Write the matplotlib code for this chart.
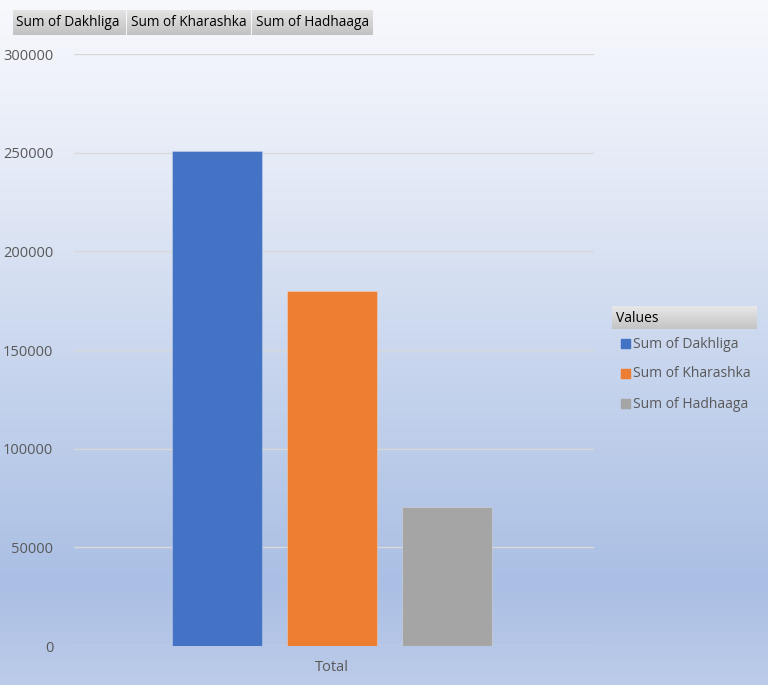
import numpy as np
import matplotlib
matplotlib.use("Agg")
import matplotlib.pyplot as plt

plt.rcParams['font.family'] = ['Open Sans', 'DejaVu Sans']

series = ["Sum of Dakhliga", "Sum of Kharashka", "Sum of Hadhaaga"]
values = [251000, 180000, 70500]
colors = ["#4472c4", "#ed7d31", "#a5a5a5"]
category = "Total"
yticks = [0, 50000, 100000, 150000, 200000, 250000, 300000]

W, H = 768, 685
fig = plt.figure(figsize=(W / 100, H / 100), dpi=100)


def px(x, y, w, h):
    # pixel box (top-left origin) -> figure fraction
    return [x / W, 1 - (y + h) / H, w / W, h / H]


def gradient_box(rect, top, bottom, n=64):
    a = fig.add_axes(rect)
    c0 = np.array(matplotlib.colors.to_rgb(top))
    c1 = np.array(matplotlib.colors.to_rgb(bottom))
    t = np.linspace(0, 1, n)[:, None]
    img = (c0 * (1 - t) + c1 * t)[:, None, :]
    a.imshow(img, aspect="auto", extent=[0, 1, 0, 1])
    a.set_axis_off()
    return a


# background gradient
bg = fig.add_axes([0, 0, 1, 1])
stops = np.array([
    matplotlib.colors.to_rgb("#f8f9fd"),
    matplotlib.colors.to_rgb("#e0e7f5"),
    matplotlib.colors.to_rgb("#c6d4ed"),
    matplotlib.colors.to_rgb("#aabfe4"),
    matplotlib.colors.to_rgb("#bccbe9"),
])
pos = np.array([0.0, 0.3, 0.55, 0.85, 1.0])
t = np.linspace(0, 1, 256)
img = np.stack([np.interp(t, pos, stops[:, k]) for k in range(3)], axis=1)[:, None, :]
bg.imshow(img, aspect="auto", extent=[0, 1, 0, 1])
bg.set_axis_off()

# main plot
ax = fig.add_axes(px(74, 54, 520, 592))
ax.patch.set_alpha(0)
step = 115 / 520
width = 90 / 520
shift = -2 / 520
for i, (s, v, c) in enumerate(zip(series, values, colors)):
    ax.bar(shift + (i - 1) * step, v, width=width, color=c, zorder=3,
           edgecolor=matplotlib.colors.to_rgba("white", 0.25), linewidth=0.8)
ax.set_xlim(-0.5, 0.5)
ax.set_ylim(0, 300000)
ax.set_yticks(yticks)
ax.set_yticklabels([str(v) for v in yticks])
ax.set_xticks([shift])
ax.set_xticklabels([category])
ax.yaxis.grid(True, color="#d9d9d9", linewidth=1, zorder=0)
ax.set_axisbelow(True)
for sp in ax.spines.values():
    sp.set_visible(False)
ax.tick_params(length=0, labelsize=10.5, colors="#595959", pad=15)
ax.tick_params(axis="x", pad=10)

# field buttons on top
bx = [(13, 112), (127, 123), (252, 121)]
for (x0, w), s in zip(bx, series):
    b = gradient_box(px(x0, 10, w, 25), "#e4e4e4", "#c2c2c2")
    b.text(0.03, 0.48, s, fontsize=9.8, color="black", va="center", ha="left",
           transform=b.transAxes)

# legend
hdr = gradient_box(px(612, 306, 145, 23), "#e8e8e8", "#c4c4c4")
hdr.text(0.03, 0.45, "Values", fontsize=10, color="black", va="center",
         ha="left", transform=hdr.transAxes)
for i, (s, c) in enumerate(zip(series, colors)):
    yy = 344 + i * 30
    fig.patches.append(matplotlib.patches.Rectangle(
        (621 / W, 1 - (yy + 4) / H), 9 / W, 9 / H, color=c,
        transform=fig.transFigure, figure=fig))
    fig.text(633 / W, 1 - yy / H, s, fontsize=10, color="#595959",
             va="center", ha="left")

fig.savefig("out.png", dpi=100)
